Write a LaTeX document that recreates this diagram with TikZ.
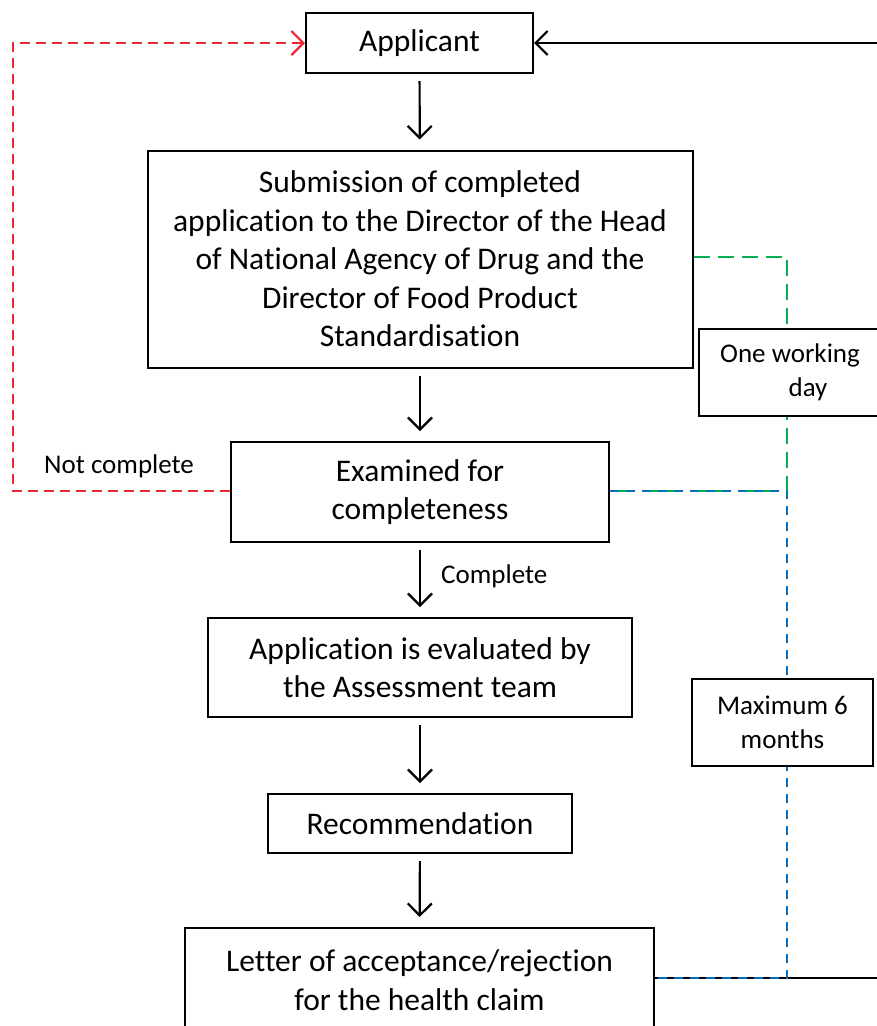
\documentclass[tikz,border=0pt]{standalone}
\usepackage{fontspec}
\setmainfont{Carlito}[Ligatures={NoCommon}]
\usetikzlibrary{arrows.meta}
\pgfdeclarelayer{back}
\pgfsetlayers{back,main}
\definecolor{loopred}{HTML}{EC2830}
\definecolor{daygreen}{HTML}{00B050}
\definecolor{monthblue}{HTML}{0070C0}

\begin{document}
\begin{tikzpicture}[x=1pt,y=-1pt,
  stepbox/.style={draw, line width=2pt, fill=white, align=center, inner sep=0pt,
    font=\fontsize{31.5}{38.5}\selectfont},
  timebox/.style={draw, line width=2pt, fill=white, align=center, inner sep=0pt,
    font=\fontsize{27}{34}\selectfont},
  lbl/.style={inner sep=0pt, font=\fontsize{27}{34}\selectfont},
  barb/.style={-{Straight Barb[length=12pt,width=24pt,line width=2.2pt]}},
  flow/.style={line width=2.2pt, barb, shorten <=7pt, shorten >=10pt},
  loopline/.style={draw=loopred, line width=2.2pt, dash pattern=on 10pt off 6pt},
  dayline/.style={draw=daygreen, line width=2.2pt, dash pattern=on 16pt off 8pt},
  monthline/.style={draw=monthblue, line width=2.2pt, dash pattern=on 9pt off 7pt},
]
\useasboundingbox (0,0) rectangle (877,1026);
\clip (0,0) rectangle (877,1026);

% process steps
\node[stepbox, minimum width=227pt, minimum height=60pt] (app) at (419.5,43) {Applicant};
\node[stepbox, minimum width=545pt, minimum height=217pt] (sub) at (420,259)
  {Submission of completed\\application to the Director of the Head\\of National Agency of Drug and the\\Director of Food Product\\Standardisation};
\node[stepbox, minimum width=378pt, minimum height=100pt] (exa) at (420,492)
  {Examined for\\completeness};
\node[stepbox, minimum width=424pt, minimum height=99pt] (eva) at (420,667.5)
  {Application is evaluated by\\the Assessment team};
\node[stepbox, minimum width=304pt, minimum height=59pt] (rec) at (420,823.5)
  {Recommendation};
\node[stepbox, minimum width=469pt, minimum height=104pt] (let) at (419.5,980)
  {Letter of acceptance/rejection\\for the health claim};

% time limits
\node[timebox, minimum width=182pt, minimum height=87pt] (owd) at (790,372.5)
  {One working\\\hspace*{36pt}day};
\node[timebox, minimum width=181pt, minimum height=87pt] (msx) at (782.5,722.5)
  {Maximum 6\\months};

% labels
\node[lbl, anchor=west] (nc) at (44,466) {Not complete};
\node[lbl, anchor=west] (cp) at (441,576) {Complete};

% main flow
\draw[flow] (app) -- (sub);
\draw[flow] (sub) -- (exa);
\draw[flow] (exa) -- (eva);
\draw[flow] (eva) -- (rec);
\draw[flow] (rec) -- (let);

\coordinate (rc) at (895,43);
\coordinate (gc) at (787,491);
\coordinate (bc) at (787,978);
\coordinate (nc1) at (13,43);

\begin{pgfonlayer}{back}
  % decision returned to the applicant
  \draw[line width=2.2pt, barb] ([yshift=2pt]let.east) -- ([yshift=2pt]let.east -| rc) -- (rc) -- (app.east);
  % incomplete application sent back
  \draw[loopline] ([yshift=1pt]exa.west) -| (nc1) -- ([xshift=-3pt]app.west);
  \draw[draw=loopred, line width=2.2pt, barb] ([xshift=-4pt]app.west) -- (app.west);
  % one working day
  \draw[dayline] ([yshift=2pt]sub.east) -| (gc) -- ([yshift=1pt]exa.east);
  % maximum six months
  \draw[monthline] ([yshift=1pt]exa.east) -- (gc) -- (bc) -- ([yshift=2pt]let.east);
\end{pgfonlayer}
\end{tikzpicture}
\end{document}
